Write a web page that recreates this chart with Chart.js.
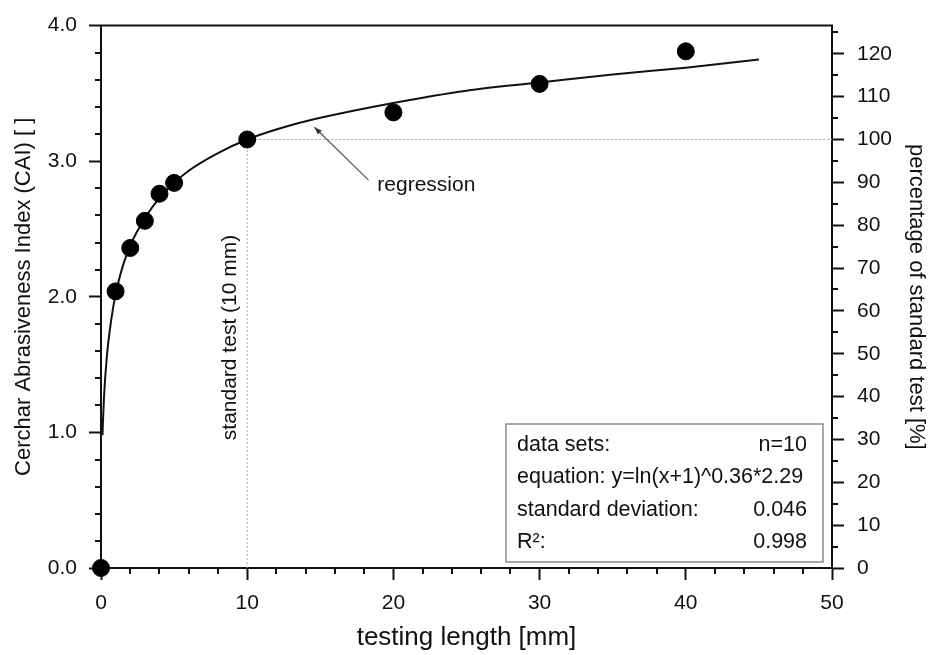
<!DOCTYPE html>
<html>
<head>
<meta charset="utf-8">
<script src="https://cdn.jsdelivr.net/npm/chart.js@4.4.1/dist/chart.umd.min.js"></script>
<style>
  html, body { margin: 0; padding: 0; background: #fff; }
  canvas { display: block; }
</style>
</head>
<body>
<canvas id="caiChart" width="929" height="655"></canvas>
<script>
// measured Cerchar values
const testLength = [0, 1, 2, 3, 4, 5, 10, 20, 30, 40];
const caiValues = [0, 2.04, 2.36, 2.56, 2.76, 2.84, 3.16, 3.36, 3.57, 3.81];

// regression curve
const regLength = [0.1, 0.2, 0.4, 0.7, 1, 1.5, 2, 3, 4, 5, 6, 8, 10, 12.5, 15, 20, 25, 30, 35, 40, 45];
const regValues = [0.98, 1.25, 1.56, 1.83, 2.02, 2.23, 2.38, 2.58, 2.73, 2.84, 2.93, 3.06, 3.16, 3.25, 3.32, 3.43, 3.52, 3.58, 3.64, 3.69, 3.75];

// standard test reference (10 mm = 100 %)
const standardLength = 10;
const standardCai = 3.16;

const xTicks = [0, 10, 20, 30, 40, 50];
const caiTicks = [0, 1, 2, 3, 4];
const percentTicks = [0, 10, 20, 30, 40, 50, 60, 70, 80, 90, 100, 110, 120];

const statLabels = ["data sets:", "equation: y=ln(x+1)^0.36*2.29", "standard deviation:", "R²:"];
const statValues = ["n=10", "", "0.046", "0.998"];

const FONT = "'Liberation Sans', Arial, sans-serif";
const INK = "#111";

const annotations = {
  regression: { text: "regression", x: 18.9, y: 2.82, fromX: 18.3, fromY: 2.86, toX: 14.6, toY: 3.25 },
  standard: { text: "standard test (10 mm)", x: 8.85, y: 1.70 }
};

const extras = {
  id: "extras",
  afterDraw(chart) {
    const ctx = chart.ctx;
    const xs = chart.scales.x, ys = chart.scales.y, ps = chart.scales.y2;
    const area = chart.chartArea;
    ctx.save();

    // top frame line
    ctx.strokeStyle = INK;
    ctx.lineWidth = 2;
    ctx.beginPath();
    ctx.moveTo(area.left - 1, area.top);
    ctx.lineTo(area.right + 1, area.top);
    ctx.stroke();

    // minor ticks
    ctx.beginPath();
    for (let i = 1; i < 25; i++) {
      if (i % 5 === 0) continue;
      const px = Math.round(xs.getPixelForValue(i * 2));
      ctx.moveTo(px, area.bottom);
      ctx.lineTo(px, area.bottom + 6);
    }
    for (let i = 1; i < 20; i++) {
      if (i % 5 === 0) continue;
      const py = Math.round(ys.getPixelForValue(i * 0.2));
      ctx.moveTo(area.left, py);
      ctx.lineTo(area.left - 6, py);
    }
    for (let v = 5; v < ps.max; v += 10) {
      const py = Math.round(ps.getPixelForValue(v));
      ctx.moveTo(area.right, py);
      ctx.lineTo(area.right + 6, py);
    }
    ctx.stroke();

    // regression label and arrow
    const r = annotations.regression;
    ctx.fillStyle = INK;
    ctx.font = "21px " + FONT;
    ctx.textAlign = "left";
    ctx.textBaseline = "middle";
    ctx.fillText(r.text, xs.getPixelForValue(r.x), ys.getPixelForValue(r.y));

    const ax0 = xs.getPixelForValue(r.fromX), ay0 = ys.getPixelForValue(r.fromY);
    const ax1 = xs.getPixelForValue(r.toX), ay1 = ys.getPixelForValue(r.toY);
    ctx.strokeStyle = "#555";
    ctx.lineWidth = 1.2;
    ctx.beginPath();
    ctx.moveTo(ax0, ay0);
    ctx.lineTo(ax1, ay1);
    ctx.stroke();
    const ang = Math.atan2(ay1 - ay0, ax1 - ax0);
    ctx.fillStyle = "#333";
    ctx.beginPath();
    ctx.moveTo(ax1, ay1);
    ctx.lineTo(ax1 - 8 * Math.cos(ang - 0.35), ay1 - 8 * Math.sin(ang - 0.35));
    ctx.lineTo(ax1 - 8 * Math.cos(ang + 0.35), ay1 - 8 * Math.sin(ang + 0.35));
    ctx.closePath();
    ctx.fill();

    // vertical label for the standard test
    const s = annotations.standard;
    ctx.save();
    ctx.translate(xs.getPixelForValue(s.x), ys.getPixelForValue(s.y));
    ctx.rotate(-Math.PI / 2);
    ctx.fillStyle = INK;
    ctx.font = "21px " + FONT;
    ctx.textAlign = "center";
    ctx.textBaseline = "middle";
    ctx.fillText(s.text, 0, 0);
    ctx.restore();

    // statistics box
    const bw = 317, bh = 138;
    const bx = area.right - 9 - bw, by = area.bottom - 6 - bh;
    ctx.fillStyle = "#fff";
    ctx.fillRect(bx, by, bw, bh);
    ctx.strokeStyle = "#8a8a8a";
    ctx.lineWidth = 1.5;
    ctx.strokeRect(bx, by, bw, bh);
    ctx.fillStyle = INK;
    ctx.font = "21.5px " + FONT;
    ctx.textBaseline = "middle";
    statLabels.forEach((lbl, i) => {
      const ty = by + 21 + i * 32.5;
      ctx.textAlign = "left";
      ctx.fillText(lbl, bx + 11, ty);
      ctx.textAlign = "right";
      ctx.fillText(statValues[i], bx + bw - 16, ty);
    });

    ctx.restore();
  }
};

function keepTicks(list) {
  return function (scale) {
    scale.ticks = list.map(v => ({ value: v }));
  };
}

const axisFont = { size: 21, family: FONT };
const titleFont = { size: 22, family: FONT };
const gridOpts = { drawOnChartArea: false, drawTicks: true, tickLength: 12, tickColor: INK, tickWidth: 2 };
const borderOpts = { color: INK, width: 2 };

new Chart(document.getElementById("caiChart").getContext("2d"), {
  type: "scatter",
  data: {
    datasets: [
      {
        label: "measured",
        data: testLength.map((x, i) => ({ x: x, y: caiValues[i] })),
        backgroundColor: "#000",
        borderColor: "#000",
        pointRadius: 8.5,
        showLine: false,
        clip: false
      },
      {
        label: "regression",
        data: regLength.map((x, i) => ({ x: x, y: regValues[i] })),
        borderColor: "#111",
        borderWidth: 2,
        pointRadius: 0,
        showLine: true,
        cubicInterpolationMode: "monotone"
      },
      {
        label: "standard x",
        data: [{ x: standardLength, y: 0 }, { x: standardLength, y: standardCai }],
        borderColor: "#aaa",
        borderWidth: 1,
        borderDash: [2, 2],
        pointRadius: 0,
        showLine: true
      },
      {
        label: "standard y",
        data: [{ x: standardLength, y: standardCai }, { x: 50, y: standardCai }],
        borderColor: "#aaa",
        borderWidth: 1,
        borderDash: [2, 2],
        pointRadius: 0,
        showLine: true
      }
    ]
  },
  options: {
    responsive: false,
    animation: false,
    layout: { padding: { top: 21, right: 0, bottom: 0, left: 0 } },
    plugins: { legend: { display: false }, tooltip: { enabled: false } },
    scales: {
      x: {
        type: "linear",
        min: 0,
        max: 50,
        afterBuildTicks: keepTicks(xTicks),
        afterFit: s => { s.height = 87; },
        ticks: { color: INK, font: axisFont, padding: 11, maxRotation: 0 },
        grid: gridOpts,
        border: borderOpts,
        title: { display: true, text: "testing length [mm]", color: INK, font: { size: 26, family: FONT }, padding: { top: 0, bottom: 2 } }
      },
      y: {
        type: "linear",
        position: "left",
        min: 0,
        max: 4,
        afterBuildTicks: keepTicks(caiTicks),
        afterFit: s => { s.width = 101; },
        ticks: { color: INK, font: axisFont, padding: 12, callback: v => v.toFixed(1) },
        grid: gridOpts,
        border: borderOpts,
        title: { display: true, text: "Cerchar Abrasiveness Index (CAI) [ ]", color: INK, font: titleFont, padding: { top: 11, bottom: 0 } }
      },
      y2: {
        type: "linear",
        position: "right",
        min: 0,
        max: 400 / standardCai,
        afterBuildTicks: keepTicks(percentTicks),
        afterFit: s => { s.width = 97; },
        ticks: { color: INK, font: axisFont, padding: 13 },
        grid: gridOpts,
        border: borderOpts,
        title: { display: true, text: "percentage of standard test [%]", color: INK, font: titleFont, padding: { top: 0, bottom: 0 } }
      }
    }
  },
  plugins: [extras]
});
</script>
</body>
</html>
